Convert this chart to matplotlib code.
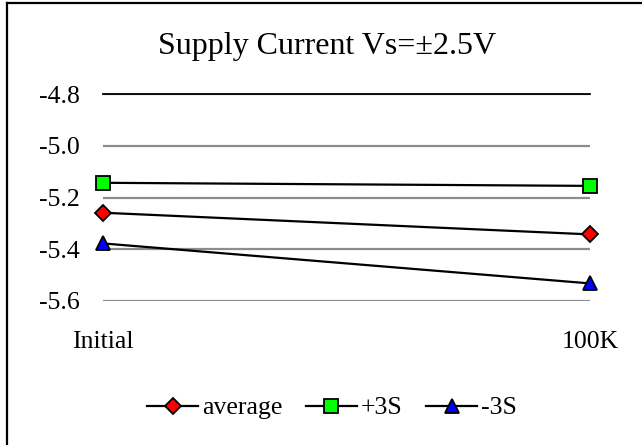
import matplotlib
matplotlib.use("Agg")
import matplotlib.pyplot as plt
from matplotlib.lines import Line2D

categories = ["Initial", "100K"]
average = [-5.259, -5.343]
plus3s = [-5.143, -5.155]
minus3s = [-5.378, -5.533]
yticks = [-4.8, -5.0, -5.2, -5.4, -5.6]
title = "Supply Current Vs=\u00b12.5V"

plt.rcParams['font.family'] = ['Liberation Serif', 'DejaVu Serif']

fig = plt.figure(figsize=(6.42, 4.45), dpi=100)
ax = fig.add_axes([103/642, 1-300.7/445, (590-103)/642, (300.7-94.3)/445])

x = list(range(len(categories)))
ax.plot(x, average, color='black', lw=1.6, marker='D', markersize=8.5,
        markerfacecolor='#ff0000', markeredgecolor='black', markeredgewidth=1.3,
        label='average', zorder=3, clip_on=False)
ax.plot(x, plus3s, color='black', lw=1.6, marker='s', markersize=9.5,
        markerfacecolor='#00ff00', markeredgecolor='black', markeredgewidth=1.3,
        label='+3S', zorder=3, clip_on=False)
ax.plot(x, minus3s, color='black', lw=1.6, marker='^', markersize=10.5,
        markerfacecolor='#0000ff', markeredgecolor='black', markeredgewidth=1.3,
        label='-3S', zorder=3, clip_on=False)

ax.set_xlim(0, 1)
ax.set_ylim(-5.6, -4.8)
ax.set_yticks(yticks)
ax.set_yticklabels([f"{v:.1f}" for v in yticks])
ax.set_xticks(x)
ax.set_xticklabels(categories)
ax.tick_params(axis='y', length=0, pad=17, labelsize=18.5)
ax.tick_params(axis='x', length=0, pad=22, labelsize=18.5)
ax.yaxis.grid(True, color='#8c8c8c', lw=1.6)
ax.set_axisbelow(True)
for s in ['left', 'right', 'bottom']:
    ax.spines[s].set_visible(False)
ax.spines['top'].set_color('black')
ax.spines['top'].set_linewidth(1.3)

fig.text(327.5/642, 1-54/445, title, ha='center', va='baseline', fontsize=23)

leg = fig.legend(loc='center', bbox_to_anchor=(332/642, 1-408/445), ncol=3,
                 frameon=False, fontsize=18.5, handlelength=2.0,
                 handletextpad=0.15, columnspacing=0.9)

# figure frame (left and top edges)
fig.add_artist(Line2D([6.5/642, 6.5/642], [0, 1-3/445], color='black', lw=1.6, transform=fig.transFigure))
fig.add_artist(Line2D([6.5/642, 1], [1-3/445, 1-3/445], color='black', lw=1.6, transform=fig.transFigure))

fig.savefig("out.png", dpi=100)
